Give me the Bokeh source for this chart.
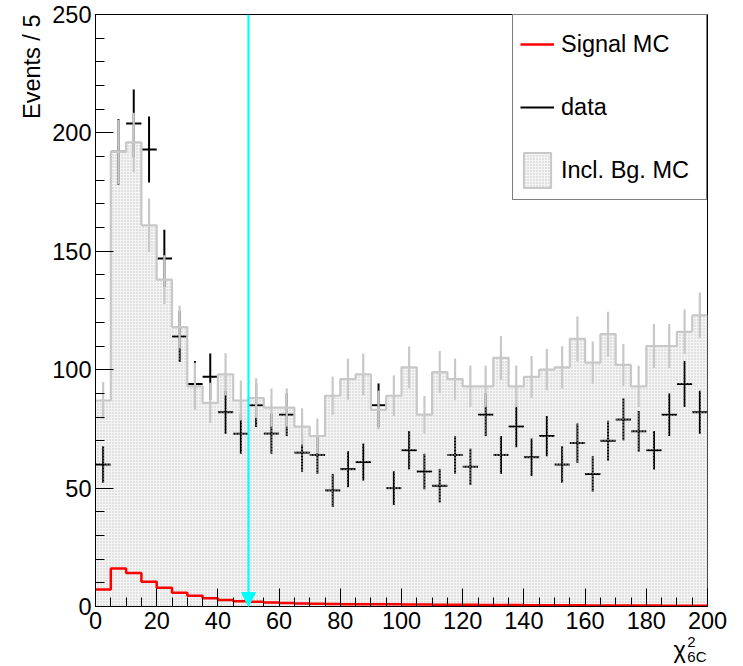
import numpy as np
from bokeh.plotting import figure
from bokeh.models import (Range1d, SingleIntervalTicker, Label, Legend, LegendItem,
                          Arrow, NormalHead, ColumnDataSource, Title)
from bokeh.embed import file_html
from bokeh.resources import INLINE

# ---------------- data ----------------
bin_width = 5
x_min, x_max = 0, 200
y_min, y_max = 0, 250
cut_value = 50

bg_mc = [87, 192, 196, 161, 138, 118, 93, 86, 98, 87,
         88, 84, 84, 76, 72, 89, 96, 98, 83, 89,
         101, 81, 99, 96, 93, 93, 105, 93, 97, 100,
         101, 113, 103, 115, 102, 93, 110, 110, 116, 123]
bg_err = [7.8, 13.6, 12.5, 11.3, 10.3, 9.0, 9.9, 8.5, 8.9, 8.4,
          8.4, 8.1, 8.1, 7.7, 7.4, 8.1, 8.7, 8.8, 8.2, 8.6,
          8.8, 7.9, 8.9, 8.7, 8.7, 8.7, 9.2, 8.8, 8.8, 8.7,
          8.9, 9.5, 8.9, 9.5, 8.9, 8.7, 9.3, 9.3, 9.4, 9.6]
data = [60, 192, 204, 193, 147, 114, 94, 97, 82, 73,
        85, 73, 81, 65, 64, 49, 58, 61, 85, 50,
        66, 57, 51, 64, 59, 81, 64, 76, 63, 72,
        60, 69, 56, 70, 79, 74, 66, 81, 94, 82]
data_err = [7.7, 13.9, 14.3, 13.9, 12.1, 10.7, 9.7, 9.8, 9.1, 8.5,
            9.2, 8.5, 9.0, 8.1, 8.0, 7.0, 7.6, 7.8, 9.2, 7.1,
            8.1, 7.5, 7.1, 8.0, 7.7, 9.0, 8.0, 8.7, 7.9, 8.5,
            7.7, 8.3, 7.5, 8.4, 8.9, 8.6, 8.1, 9.0, 9.7, 9.1]
signal = [7.2, 16.0, 14.1, 10.4, 7.9, 5.8, 4.5, 3.5, 2.7, 2.2,
          2.0, 1.7, 1.5, 1.3, 1.2, 1.1, 1.0, 1.0, 0.9, 0.9,
          0.8, 0.8, 0.7, 0.7, 0.7, 0.6, 0.6, 0.6, 0.5, 0.5,
          0.5, 0.5, 0.4, 0.4, 0.4, 0.4, 0.4, 0.3, 0.3, 0.3]

legend_labels = ["Signal MC", "data", "Incl. Bg. MC"]
y_title = "Events / 5"
x_title_main, x_title_sup, x_title_sub = "\u03c7", "2", "6C"

FONT = "Liberation Sans"
BG_LINE = "#c8c8c8"
BG_FILL = "#f4f4f4"
BG_DOTS = "#c4c4c4"

# ---------------- derived positions ----------------
edges = np.arange(x_min, x_max + bin_width, bin_width)
lo = edges[:-1]
hi = edges[1:]
centers = lo + bin_width / 2.0

bg = np.array(bg_mc, float)
bge = np.array(bg_err, float)
dv = np.array(data, float)
de = np.array(data_err, float)
sg = np.array(signal, float)

bg_step = np.append(bg, bg[-1])
sg_step = np.append(sg, sg[-1])

p = figure(width=743, height=666,
           x_range=Range1d(x_min, x_max), y_range=Range1d(y_min, y_max),
           output_backend="svg", toolbar_location=None,
           min_border_left=95, min_border_right=36,
           min_border_top=14, min_border_bottom=60)
p.background_fill_color = "white"
p.border_fill_color = "white"
p.xgrid.visible = False
p.ygrid.visible = False
p.outline_line_color = "black"
p.outline_line_width = 1

# axes
p.xaxis.ticker = SingleIntervalTicker(interval=20, num_minor_ticks=4)
p.yaxis.ticker = SingleIntervalTicker(interval=50, num_minor_ticks=5)
for ax in (p.xaxis[0], p.yaxis[0]):
    ax.major_tick_in = 18
    ax.major_tick_out = 0
    ax.minor_tick_in = 9
    ax.minor_tick_out = 0
    ax.axis_line_color = "black"
    ax.major_tick_line_color = "black"
    ax.minor_tick_line_color = "black"
    ax.major_label_text_font = FONT
    ax.major_label_text_font_size = "23.5px"
    ax.major_label_text_color = "black"
p.xaxis.major_label_standoff = 5
p.yaxis.major_label_standoff = 4

# background MC fill (below data)
p.varea_step(x=edges, y1=np.zeros(len(edges)), y2=bg_step,
             step_mode="after", fill_color=BG_FILL)

# data points (horizontal bin bar + vertical error)
src_d = ColumnDataSource(dict(lo=lo, hi=hi, x=centers, y=dv,
                              ylo=dv - de, yhi=dv + de))
data_h = p.segment(x0="lo", x1="hi", y0="y", y1="y", source=src_d,
                   line_color="black", line_width=2)
p.segment(x0="x", x1="x", y0="ylo", y1="yhi", source=src_d,
          line_color="black", line_width=2)

# dotted pattern overlay of the bg MC
p.varea_step(x=edges, y1=np.zeros(len(edges)), y2=bg_step, step_mode="after",
             fill_alpha=0, hatch_pattern="dot", hatch_color=BG_DOTS,
             hatch_scale=3, hatch_weight=1)

# bg MC outline and error bars
p.step(x=edges, y=bg_step, mode="after", line_color=BG_LINE, line_width=2.2)
src_b = ColumnDataSource(dict(x=centers, ylo=bg - bge, yhi=bg + bge))
p.segment(x0="x", x1="x", y0="ylo", y1="yhi", source=src_b,
          line_color=BG_LINE, line_width=2.2)

# legend proxy for bg (zero-size box, only its style is used by the legend)
bg_legend = p.quad(left=[x_min], right=[x_min], top=[y_min], bottom=[y_min],
                   fill_color=BG_FILL, hatch_pattern="dot", hatch_color=BG_DOTS,
                   hatch_scale=3, line_color=BG_LINE, line_width=2)

# signal MC
sig = p.step(x=edges, y=sg_step, mode="after", line_color="red", line_width=2.5)

# cut arrow
p.add_layout(Arrow(end=NormalHead(size=14, fill_color="#00ffff", line_color="#00ffff"),
                   x_start=cut_value, y_start=y_max, x_end=cut_value, y_end=y_min,
                   line_color="#00ffff", line_width=2.2))

# legend
legend = Legend(items=[LegendItem(label=legend_labels[0], renderers=[sig]),
                       LegendItem(label=legend_labels[1], renderers=[data_h]),
                       LegendItem(label=legend_labels[2], renderers=[bg_legend], index=0)],
                location="top_right", margin=0, padding=7, spacing=19,
                glyph_width=34, glyph_height=44, label_standoff=7,
                label_width=138, label_text_font=FONT,
                label_text_font_size="23.5px", label_text_color="black",
                border_line_color="black", border_line_width=1,
                background_fill_color="white", background_fill_alpha=1)
p.add_layout(legend)

# y axis title (ROOT style: at the top end of the axis)
p.add_layout(Title(text=y_title, align="right", text_font=FONT,
                   text_font_size="23.5px", text_font_style="normal",
                   text_color="black", standoff=10), "left")

# x axis title (chi^2_6C at the right end of the axis), placed in side panels
p.add_layout(Label(x=188.9, y=-18.2, text=x_title_main, text_align="left",
                   text_baseline="alphabetic", text_font=FONT,
                   text_font_size="23.5px", text_color="black"), "below")
p.add_layout(Label(x=193.4, y=-14.8, text=x_title_sup, text_align="left",
                   text_baseline="alphabetic", text_font=FONT,
                   text_font_size="15px", text_color="black"), "right")
p.add_layout(Label(x=193.4, y=-21.1, text=x_title_sub, text_align="left",
                   text_baseline="alphabetic", text_font=FONT,
                   text_font_size="15px", text_color="black"), "right")

open("out.html", "w").write(file_html(p, INLINE))
